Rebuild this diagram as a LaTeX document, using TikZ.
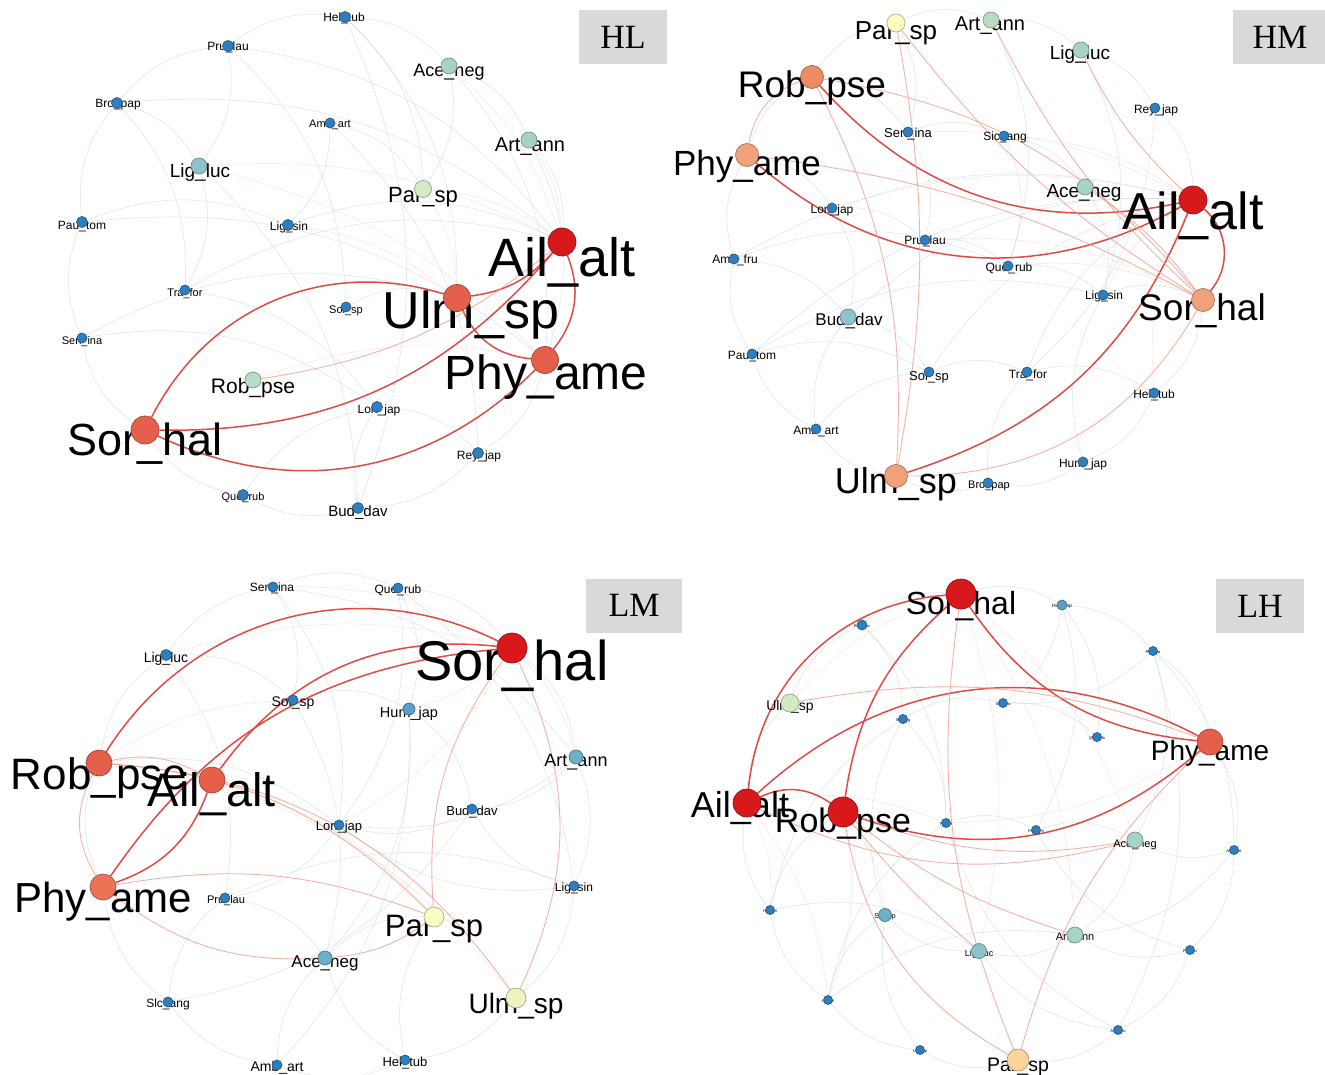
\documentclass[tikz,border=0pt]{standalone}
\usepackage{fontspec}
\setmainfont{Liberation Sans}
\newfontfamily\tagfont{Liberation Serif}
\usetikzlibrary{positioning}

\definecolor{hotRed}{HTML}{D7191C}
\definecolor{coral}{HTML}{E5604A}
\definecolor{coralLight}{HTML}{EB7457}
\definecolor{salmon}{HTML}{F2A27A}
\definecolor{salmonDark}{HTML}{EC8C64}
\definecolor{peach}{HTML}{FAD49B}
\definecolor{cream}{HTML}{FBFAC0}
\definecolor{creamGreen}{HTML}{EEF3C0}
\definecolor{paleGreen}{HTML}{D3EAC2}
\definecolor{mint}{HTML}{B9DCC7}
\definecolor{sage}{HTML}{A6D2C8}
\definecolor{aqua}{HTML}{8EC3CA}
\definecolor{tealBlue}{HTML}{6CAFC7}
\definecolor{midBlue}{HTML}{5C9FC6}
\definecolor{steel}{HTML}{2F7FBE}
\definecolor{wire}{HTML}{C4D3E2}
\definecolor{linkRed}{HTML}{E04A45}
\definecolor{linkPink}{HTML}{EE9A88}

\pgfdeclarelayer{edges}
\pgfsetlayers{edges,main}

\begin{document}
\begin{tikzpicture}[x=1pt,y=-1pt,
  spc/.style 2 args={circle,inner sep=0pt,line width=.7pt,minimum size=#1,fill=#2,draw=#2!70!black},
  lab/.style={font=\fontsize{#1}{#1}\selectfont,inner sep=0pt,anchor=base},
  tag/.style={fill=gray!30,inner sep=0pt,minimum width=88pt,minimum height=54pt,font=\tagfont\fontsize{34}{34}\selectfont},
  heavy/.style={linkRed,line width=1.5pt},
  soft/.style={linkPink,line width=.9pt,opacity=.75},
  web/.style={wire,line width=.45pt,opacity=.7},
  webpink/.style={linkPink!60,line width=.45pt,opacity=.5}]
  \useasboundingbox (0,0) rectangle (1325,1075);

  % HL
  \node[tag] (a-tag) at (623,37) {HL};
  \node[lab=12] (a-hel-t) at (344,22) {Hel\_tub};
  \node[spc={11pt}{steel}] (a-hel) at (345,17) {};
  \node[lab=12] (a-pru-t) at (228,51) {Pru\_lau};
  \node[spc={11pt}{steel}] (a-pru) at (228,46) {};
  \node[lab=18] (a-ace-t) at (449,77) {Ace\_neg};
  \node[spc={16pt}{sage}] (a-ace) at (449,66) {};
  \node[lab=12] (a-bro-t) at (118,108) {Bro\_pap};
  \node[spc={11pt}{steel}] (a-bro) at (117,103) {};
  \node[lab=11] (a-amb-t) at (330,128) {Amb\_art};
  \node[spc={10pt}{steel}] (a-amb) at (330,123) {};
  \node[lab=20] (a-art-t) at (530,152) {Art\_ann};
  \node[spc={16pt}{sage}] (a-art) at (529,140) {};
  \node[lab=19] (a-lig-t) at (200,178) {Lig\_luc};
  \node[spc={16pt}{aqua}] (a-lig) at (199,166) {};
  \node[lab=22] (a-par-t) at (423,203) {Par\_sp};
  \node[spc={17pt}{paleGreen}] (a-par) at (423,189) {};
  \node[lab=12] (a-pau-t) at (82,230) {Pau\_tom};
  \node[spc={11pt}{steel}] (a-pau) at (82,222) {};
  \node[lab=12] (a-ligs-t) at (289,231) {Lig\_sin};
  \node[spc={11pt}{steel}] (a-ligs) at (288,225) {};
  \node[lab=54] (a-ail-t) at (562,277) {Ail\_alt};
  \node[spc={28pt}{hotRed}] (a-ail) at (562,242) {};
  \node[lab=11] (a-tra-t) at (185,297) {Tra\_for};
  \node[spc={10pt}{steel}] (a-tra) at (185,290) {};
  \node[lab=52] (a-ulm-t) at (471,328) {Ulm\_sp};
  \node[spc={27pt}{coral}] (a-ulm) at (457,298) {};
  \node[lab=11] (a-sol-t) at (346,313) {Sol\_sp};
  \node[spc={10pt}{steel}] (a-sol) at (346,307) {};
  \node[lab=11] (a-sen-t) at (82,344) {Sen\_ina};
  \node[spc={10pt}{steel}] (a-sen) at (82,338) {};
  \node[lab=48] (a-phy-t) at (546,389) {Phy\_ame};
  \node[spc={27pt}{coral}] (a-phy) at (545,360) {};
  \node[lab=21] (a-rob-t) at (253,393) {Rob\_pse};
  \node[spc={16pt}{mint}] (a-rob) at (253,380) {};
  \node[lab=12] (a-lon-t) at (379,413) {Lon\_jap};
  \node[spc={11pt}{steel}] (a-lon) at (377,407) {};
  \node[lab=45] (a-sor-t) at (145,455) {Sor\_hal};
  \node[spc={28pt}{coral}] (a-sor) at (145,430) {};
  \node[lab=12] (a-rey-t) at (479,459) {Rey\_jap};
  \node[spc={11pt}{steel}] (a-rey) at (478,453) {};
  \node[lab=11] (a-que-t) at (243,500) {Que\_rub};
  \node[spc={11pt}{steel}] (a-que) at (243,495) {};
  \node[lab=15] (a-bud-t) at (358,516) {Bud\_dav};
  \node[spc={11pt}{steel}] (a-bud) at (358,508) {};

  % HM
  \node[tag,minimum width=94pt] (b-tag) at (1280,37.5) {HM};
  \node[lab=26] (b-par-t) at (896,40) {Par\_sp};
  \node[spc={18pt}{cream}] (b-par) at (896,23) {};
  \node[lab=20] (b-art-t) at (990,31) {Art\_ann};
  \node[spc={16pt}{mint}] (b-art) at (991,20) {};
  \node[lab=19] (b-lig-t) at (1080,60) {Lig\_luc};
  \node[spc={16pt}{sage}] (b-lig) at (1081,50) {};
  \node[lab=37] (b-rob-t) at (812,98) {Rob\_pse};
  \node[spc={23pt}{salmonDark}] (b-rob) at (812,77) {};
  \node[lab=12] (b-rey-t) at (1156,114) {Rey\_jap};
  \node[spc={10pt}{steel}] (b-rey) at (1155,108) {};
  \node[lab=13] (b-sen-t) at (908,138) {Sen\_ina};
  \node[spc={10pt}{steel}] (b-sen) at (908,132) {};
  \node[lab=12] (b-sic-t) at (1005,141) {Sic\_ang};
  \node[spc={10pt}{steel}] (b-sic) at (1004,136) {};
  \node[lab=35] (b-phy-t) at (747,176) {Phy\_ame};
  \node[spc={23pt}{salmon}] (b-phy) at (747,155) {};
  \node[lab=19] (b-ace-t) at (1084,198) {Ace\_neg};
  \node[spc={16pt}{sage}] (b-ace) at (1085,187) {};
  \node[lab=52] (b-ail-t) at (1193,230) {Ail\_alt};
  \node[spc={28pt}{hotRed}] (b-ail) at (1193,200) {};
  \node[lab=12] (b-lon-t) at (832,214) {Lon\_jap};
  \node[spc={10pt}{steel}] (b-lon) at (832,208) {};
  \node[lab=12] (b-pru-t) at (925,245) {Pru\_lau};
  \node[spc={10pt}{steel}] (b-pru) at (925,240) {};
  \node[lab=12] (b-ambf-t) at (735,264) {Amb\_fru};
  \node[spc={10pt}{steel}] (b-ambf) at (734,259) {};
  \node[lab=12] (b-que-t) at (1009,272) {Que\_rub};
  \node[spc={10pt}{steel}] (b-que) at (1008,266) {};
  \node[lab=12] (b-ligs-t) at (1104,300) {Lig\_sin};
  \node[spc={10pt}{steel}] (b-ligs) at (1103,295) {};
  \node[lab=37] (b-sor-t) at (1202,320) {Sor\_hal};
  \node[spc={23pt}{salmon}] (b-sor) at (1203,300) {};
  \node[lab=17] (b-bud-t) at (849,325) {Bud\_dav};
  \node[spc={16pt}{aqua}] (b-bud) at (848,317) {};
  \node[lab=12] (b-pau-t) at (752,359) {Pau\_tom};
  \node[spc={10pt}{steel}] (b-pau) at (752,354) {};
  \node[lab=13] (b-sol-t) at (929,380) {Sol\_sp};
  \node[spc={10pt}{steel}] (b-sol) at (929,372) {};
  \node[lab=12] (b-tra-t) at (1028,378) {Tra\_for};
  \node[spc={10pt}{steel}] (b-tra) at (1027,372) {};
  \node[lab=12] (b-hel-t) at (1154,398) {Hel\_tub};
  \node[spc={10pt}{steel}] (b-hel) at (1154,393) {};
  \node[lab=12] (b-amb-t) at (816,434) {Amb\_art};
  \node[spc={10pt}{steel}] (b-amb) at (816,429) {};
  \node[lab=12] (b-hum-t) at (1083,467) {Hum\_jap};
  \node[spc={10pt}{steel}] (b-hum) at (1083,462) {};
  \node[lab=36] (b-ulm-t) at (896,493) {Ulm\_sp};
  \node[spc={23pt}{salmon}] (b-ulm) at (896,476) {};
  \node[lab=11] (b-bro-t) at (989,488) {Bro\_pap};
  \node[spc={10pt}{steel}] (b-bro) at (988,483) {};

  % LM
  \node[tag,minimum width=96pt] (c-tag) at (634,605.5) {LM};
  \node[lab=12] (c-sen-t) at (272,591) {Sen\_ina};
  \node[spc={10pt}{steel}] (c-sen) at (273,587) {};
  \node[lab=12] (c-que-t) at (398,593) {Que\_rub};
  \node[spc={10pt}{steel}] (c-que) at (398,588) {};
  \node[lab=14] (c-lig-t) at (166,662) {Lig\_luc};
  \node[spc={11pt}{steel}] (c-lig) at (166,655) {};
  \node[lab=56] (c-sor-t) at (512,680) {Sor\_hal};
  \node[spc={30pt}{hotRed}] (c-sor) at (512,648) {};
  \node[lab=14] (c-sol-t) at (293,706) {Sol\_sp};
  \node[spc={10pt}{steel}] (c-sol) at (293,700) {};
  \node[lab=14.5] (c-hum-t) at (409,717) {Hum\_jap};
  \node[spc={12pt}{midBlue}] (c-hum) at (409,709) {};
  \node[lab=18] (c-art-t) at (576,766) {Art\_ann};
  \node[spc={14pt}{tealBlue}] (c-art) at (576,757) {};
  \node[lab=44] (c-rob-t) at (99,789) {Rob\_pse};
  \node[spc={26pt}{coral}] (c-rob) at (99,763) {};
  \node[lab=47] (c-ail-t) at (212,806) {Ail\_alt};
  \node[spc={26pt}{coral}] (c-ail) at (212,780) {};
  \node[lab=13] (c-bud-t) at (472,815) {Bud\_dav};
  \node[spc={10pt}{steel}] (c-bud) at (472,809) {};
  \node[lab=13] (c-lon-t) at (339,830) {Lon\_jap};
  \node[spc={10pt}{steel}] (c-lon) at (339,825) {};
  \node[lab=12] (c-ligs-t) at (574,891) {Lig\_sin};
  \node[spc={10pt}{steel}] (c-ligs) at (574,886) {};
  \node[lab=42] (c-phy-t) at (103,912) {Phy\_ame};
  \node[spc={26pt}{coralLight}] (c-phy) at (103,887) {};
  \node[lab=11] (c-pru-t) at (226,903) {Pru\_lau};
  \node[spc={10pt}{steel}] (c-pru) at (225,898) {};
  \node[lab=31] (c-par-t) at (434,936) {Par\_sp};
  \node[spc={20pt}{cream}] (c-par) at (434,917) {};
  \node[lab=17] (c-ace-t) at (325,967) {Ace\_neg};
  \node[spc={14pt}{tealBlue}] (c-ace) at (325,958) {};
  \node[lab=12] (c-slc-t) at (168,1007) {Slc\_ang};
  \node[spc={10pt}{steel}] (c-slc) at (168,1002) {};
  \node[lab=28] (c-ulm-t) at (516,1013) {Ulm\_sp};
  \node[spc={20pt}{creamGreen}] (c-ulm) at (516,998) {};
  \node[lab=14] (c-amb-t) at (277,1071) {Amb\_art};
  \node[spc={10pt}{steel}] (c-amb) at (277,1065) {};
  \node[lab=13] (c-hel-t) at (405,1066) {Hel\_tub};
  \node[spc={10pt}{steel}] (c-hel) at (405,1060) {};

  % LH
  \node[tag] (d-tag) at (1260,606) {LH};
  \node[lab=32] (d-sor-t) at (961,614) {Sor\_hal};
  \node[spc={30pt}{hotRed}] (d-sor) at (961,594) {};
  \node[lab=5] (d-hum-t) at (1062,607) {Hum\_jap};
  \node[spc={10pt}{midBlue}] (d-hum) at (1062,605) {};
  \node[lab=4] (d-bud-t) at (862,627) {Bud\_dav};
  \node[spc={10pt}{steel}] (d-bud) at (862,625) {};
  \node[lab=4] (d-rey-t) at (1153,653) {Rey\_jap};
  \node[spc={9pt}{steel}] (d-rey) at (1153,651) {};
  \node[lab=14] (d-ulm-t) at (790,710) {Ulm\_sp};
  \node[spc={18pt}{paleGreen}] (d-ulm) at (790,703) {};
  \node[lab=4] (d-sen-t) at (1003,705) {Sen\_ina};
  \node[spc={9pt}{steel}] (d-sen) at (1003,703) {};
  \node[lab=4] (d-sic-t) at (903,721) {Sic\_ang};
  \node[spc={9pt}{steel}] (d-sic) at (903,719) {};
  \node[lab=4] (d-que-t) at (1097,739) {Que\_rub};
  \node[spc={9pt}{steel}] (d-que) at (1097,737) {};
  \node[lab=28] (d-phy-t) at (1210,760) {Phy\_ame};
  \node[spc={26pt}{coral}] (d-phy) at (1210,742) {};
  \node[lab=36] (d-ail-t) at (740,817) {Ail\_alt};
  \node[spc={28pt}{hotRed}] (d-ail) at (747,803) {};
  \node[lab=34] (d-rob-t) at (843,832) {Rob\_pse};
  \node[spc={30pt}{hotRed}] (d-rob) at (843,812) {};
  \node[lab=4] (d-tra-t) at (946,825) {Tra\_for};
  \node[spc={9pt}{steel}] (d-tra) at (946,823) {};
  \node[lab=4] (d-pau-t) at (1036,832) {Pau\_tom};
  \node[spc={9pt}{steel}] (d-pau) at (1036,830) {};
  \node[lab=11] (d-ace-t) at (1135,847) {Ace\_neg};
  \node[spc={16pt}{sage}] (d-ace) at (1135,840) {};
  \node[lab=4] (d-amb-t) at (1234,852) {Amb\_art};
  \node[spc={9pt}{steel}] (d-amb) at (1234,850) {};
  \node[lab=4] (d-hel-t) at (770,912) {Hel\_tub};
  \node[spc={9pt}{steel}] (d-hel) at (770,910) {};
  \node[lab=7] (d-sol-t) at (885,918) {Sol\_sp};
  \node[spc={13pt}{tealBlue}] (d-sol) at (885,915) {};
  \node[lab=11] (d-art-t) at (1075,940) {Art\_ann};
  \node[spc={16pt}{sage}] (d-art) at (1075,935) {};
  \node[lab=9] (d-lig-t) at (979,956) {Lig\_luc};
  \node[spc={15pt}{aqua}] (d-lig) at (979,951) {};
  \node[lab=4] (d-pru-t) at (1190,952) {Pru\_lau};
  \node[spc={9pt}{steel}] (d-pru) at (1190,950) {};
  \node[lab=4] (d-ligs-t) at (828,1002) {Lig\_sin};
  \node[spc={9pt}{steel}] (d-ligs) at (828,1000) {};
  \node[lab=4] (d-ambf-t) at (1118,1032) {Amb\_fru};
  \node[spc={9pt}{steel}] (d-ambf) at (1118,1030) {};
  \node[lab=4] (d-lon-t) at (920,1052) {Lon\_jap};
  \node[spc={9pt}{steel}] (d-lon) at (920,1050) {};
  \node[lab=19.5] (d-par-t) at (1018,1071) {Par\_sp};
  \node[spc={22pt}{peach}] (d-par) at (1018,1060) {};

  \begin{pgfonlayer}{edges}
    % faint web
    \foreach \a/\b in {hel/ace,ace/art,art/ail,pru/hel,bro/pru,pau/bro,sen/pau,sor/sen,que/sor,bud/que,rey/bud,phy/rey,
        hel/bud,pru/sol,bro/tra,pau/ligs,ligs/ail,tra/lon,sol/ulm,amb/ligs,amb/par,lon/rey,que/lon,bud/lon,pru/ail,
        hel/ulm,ace/phy,bro/ail,pau/phy,tra/ail,sen/ulm,amb/rey,lig/bud,lig/tra,sen/lon,hel/par,pru/lig,bro/lig,ace/par,art/phy}
      \draw[web] (a-\a) to[bend left=22] (a-\b);
    \foreach \a/\b in {par/art,art/lig,lig/rey,rey/ail,sor/hel,hel/hum,hum/bro,bro/ulm,ulm/amb,amb/pau,pau/ambf,ambf/phy,
        phy/rob,rob/par,rob/sen,sen/sic,sic/ace,phy/lon,lon/pru,pru/que,que/ligs,ligs/sor,ambf/bud,bud/sol,sol/tra,tra/hel,
        pau/sol,amb/bud,lon/bud,sen/pru,sic/que,art/que,lig/ligs,rey/tra,hum/ligs,bro/tra,ambf/que,pau/ligs,amb/sol,
        par/sen,ace/ligs,ambf/ail,pau/ail,bud/ail,sol/ail,tra/ail}
      \draw[web] (b-\a) to[bend left=22] (b-\b);
    \foreach \a/\b in {sen/que,que/sor,sor/art,art/ligs,ligs/ulm,ulm/hel,hel/amb,amb/slc,slc/phy,phy/rob,rob/lig,lig/sen,
        sol/hum,hum/bud,bud/lon,lon/pru,pru/ace,ace/par,sen/sol,que/hum,lig/sol,art/bud,ligs/bud,hel/ace,amb/ace,slc/pru,
        rob/lon,sen/lon,que/lon,lig/pru,hum/ace,hum/amb,art/lon,ligs/lon,sol/ace,bud/slc,hel/par,pru/ligs,sen/art,que/ligs}
      \draw[web] (c-\a) to[bend left=22] (c-\b);
    \foreach \a/\b in {sor/hum,hum/rey,rey/phy,phy/amb,amb/pru,pru/ambf,ambf/par,par/lon,lon/ligs,ligs/hel,hel/ail,ail/ulm,
        ulm/bud,bud/sor,sen/que,sic/sen,sic/tra,tra/pau,pau/ace,ace/art,art/lig,lig/sol,sol/sic,hum/que,rey/sen,rey/amb,
        amb/art,pru/art,ambf/lig,lon/sol,ligs/sol,hel/sic,bud/sic,hum/sen,rey/ace,amb/ace,pru/pau,ambf/tra,ligs/tra,
        hel/rob,bud/tra,hum/pau,rey/ambf,hel/lig,ligs/art}
      \draw[web] (d-\a) to[bend left=22] (d-\b);
    % pale red links
    \foreach \a/\b in {lig/ail,par/ail,art/ail,ace/ail,rob/phy,par/ulm,ligs/ulm,lig/phy}
      \draw[webpink] (a-\a) to[bend left=15] (a-\b);
    \foreach \a/\b in {sen/ail,lon/ail,que/sor,ligs/ail,hel/ail,sic/ail,pru/sor}
      \draw[webpink] (b-\a) to[bend left=15] (b-\b);
    \foreach \a/\b in {sor/hum,sor/lon,rob/sol,lig/sor,sen/sor,sor/art,ail/par,ail/ulm}
      \draw[webpink] (c-\a) to[bend left=15] (c-\b);
    \foreach \a/\b in {sor/lig,sor/art,rob/sol,ail/ligs,ail/hel,rob/ligs,sor/ace,phy/tra,ail/tra,ulm/sor}
      \draw[webpink] (d-\a) to[bend left=15] (d-\b);

    % HL links
    \draw[heavy] (a-sor) to[bend left=40] (a-ulm);
    \draw[heavy] (a-sor) to[bend right=25] (a-ail);
    \draw[heavy] (a-sor) to[bend right=35] (a-phy);
    \draw[heavy] (a-ulm) to[bend right=20] (a-ail);
    \draw[heavy] (a-ulm) to[bend right=30] (a-phy);
    \draw[heavy] (a-ail) to[bend left=30] (a-phy);
    \draw[soft] (a-rob) to[bend right=15] (a-ail);

    % HM links
    \draw[heavy] (b-rob) to[bend right=30] (b-ail);
    \draw[heavy] (b-phy) to[bend right=35] (b-ail);
    \draw[heavy] (b-ulm) to[bend right=25] (b-ail);
    \draw[heavy] (b-ail) to[bend left=45] (b-sor);
    \draw[soft] (b-sor) to[bend left=30] (b-ulm);
    \draw[soft] (b-rob) to[bend right=30] (b-phy);
    \draw[soft] (b-rob) to[bend left=15] (b-ulm);
    \draw[soft] (b-par) to[bend left=10] (b-ulm);
    \draw[soft] (b-par) to[bend right=10] (b-sor);
    \draw[soft] (b-art) to[bend right=10] (b-sor);
    \draw[soft] (b-lig) to[bend right=10] (b-ail);
    \draw[soft] (b-ace) to[bend left=10] (b-sor);
    \draw[soft] (b-phy) to[bend left=10] (b-sor);
    \draw[soft] (b-rob) to[bend left=20] (b-sor);

    % LM links
    \draw[heavy] (c-rob) to[bend left=42] (c-sor);
    \draw[heavy] (c-ail) to[bend left=30] (c-sor);
    \draw[heavy] (c-phy) to[bend left=25] (c-sor);
    \draw[heavy] (c-phy) to[bend right=25] (c-ail);
    \draw[soft] (c-rob) to[bend right=30] (c-phy);
    \draw[soft] (c-rob) to[bend left=20] (c-ail);
    \draw[soft] (c-sor) to[bend right=20] (c-par);
    \draw[soft] (c-sor) to[bend left=25] (c-ulm);
    \draw[soft] (c-rob) to[bend left=20] (c-par);
    \draw[soft] (c-rob) to[bend left=25] (c-ulm);
    \draw[soft] (c-phy) to[bend left=15] (c-par);
    \draw[soft] (c-phy) to[bend right=20] (c-ace);
    \draw[soft] (c-ace) to[bend right=15] (c-par);

    % LH links
    \draw[heavy] (d-sor) to[bend right=40] (d-ail);
    \draw[heavy] (d-sor) to[bend right=20] (d-rob);
    \draw[heavy] (d-sor) to[bend right=25] (d-phy);
    \draw[heavy] (d-ail) to[bend left=35] (d-phy);
    \draw[heavy] (d-rob) to[bend right=30] (d-phy);
    \draw[heavy] (d-ail) to[bend left=30] (d-rob);
    \draw[soft] (d-rob) to[bend right=25] (d-par);
    \draw[soft] (d-sor) to[bend right=15] (d-par);
    \draw[soft] (d-rob) to[bend right=5] (d-lig);
    \draw[soft] (d-rob) to[bend right=10] (d-art);
    \draw[soft] (d-rob) to[bend right=15] (d-ace);
    \draw[soft] (d-par) to[bend left=15] (d-phy);
    \draw[soft] (d-ail) to[bend right=20] (d-ace);
    \draw[soft] (d-ulm) to[bend left=15] (d-phy);
  \end{pgfonlayer}
\end{tikzpicture}
\end{document}
